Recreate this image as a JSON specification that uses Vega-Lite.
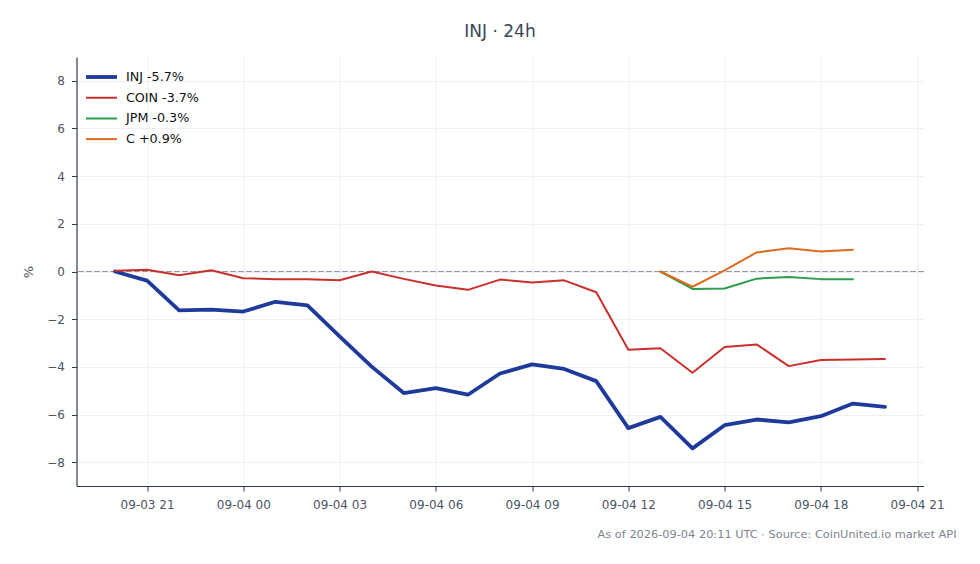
{
  "$schema": "https://vega.github.io/schema/vega-lite/v6.json",
  "autosize": "none",
  "padding": {"left": 76.5, "top": 57, "right": 56.5, "bottom": 78},
  "width": 847,
  "height": 429,
  "background": "white",
  "config": {
    "font": "DejaVu Sans",
    "view": {"stroke": null},
    "axis": {
      "domainColor": "#2f3b4a",
      "domainWidth": 1.2,
      "tickColor": "#2f3b4a",
      "tickSize": 5,
      "labelColor": "#4b5563",
      "labelFontSize": 12,
      "gridColor": "#e9ebef",
      "gridWidth": 0.8
    }
  },
  "title": {
    "text": "INJ · 24h",
    "fontSize": 17,
    "fontWeight": "normal",
    "color": "#3a4656",
    "anchor": "middle",
    "offset": 16
  },
  "data": {
    "values": [
      {"series": "INJ -5.7%", "t": "2026-09-03T20:00:00Z", "v": 0.0},
      {"series": "INJ -5.7%", "t": "2026-09-03T21:00:00Z", "v": -0.38},
      {"series": "INJ -5.7%", "t": "2026-09-03T22:00:00Z", "v": -1.63},
      {"series": "INJ -5.7%", "t": "2026-09-03T23:00:00Z", "v": -1.6},
      {"series": "INJ -5.7%", "t": "2026-09-04T00:00:00Z", "v": -1.68},
      {"series": "INJ -5.7%", "t": "2026-09-04T01:00:00Z", "v": -1.27},
      {"series": "INJ -5.7%", "t": "2026-09-04T02:00:00Z", "v": -1.42},
      {"series": "INJ -5.7%", "t": "2026-09-04T03:00:00Z", "v": -2.72},
      {"series": "INJ -5.7%", "t": "2026-09-04T04:00:00Z", "v": -3.99},
      {"series": "INJ -5.7%", "t": "2026-09-04T05:00:00Z", "v": -5.1},
      {"series": "INJ -5.7%", "t": "2026-09-04T06:00:00Z", "v": -4.89},
      {"series": "INJ -5.7%", "t": "2026-09-04T07:00:00Z", "v": -5.17},
      {"series": "INJ -5.7%", "t": "2026-09-04T08:00:00Z", "v": -4.28},
      {"series": "INJ -5.7%", "t": "2026-09-04T09:00:00Z", "v": -3.9},
      {"series": "INJ -5.7%", "t": "2026-09-04T10:00:00Z", "v": -4.09},
      {"series": "INJ -5.7%", "t": "2026-09-04T11:00:00Z", "v": -4.6},
      {"series": "INJ -5.7%", "t": "2026-09-04T12:00:00Z", "v": -6.57},
      {"series": "INJ -5.7%", "t": "2026-09-04T13:00:00Z", "v": -6.1},
      {"series": "INJ -5.7%", "t": "2026-09-04T14:00:00Z", "v": -7.42},
      {"series": "INJ -5.7%", "t": "2026-09-04T15:00:00Z", "v": -6.45},
      {"series": "INJ -5.7%", "t": "2026-09-04T16:00:00Z", "v": -6.21},
      {"series": "INJ -5.7%", "t": "2026-09-04T17:00:00Z", "v": -6.33},
      {"series": "INJ -5.7%", "t": "2026-09-04T18:00:00Z", "v": -6.07},
      {"series": "INJ -5.7%", "t": "2026-09-04T19:00:00Z", "v": -5.54},
      {"series": "INJ -5.7%", "t": "2026-09-04T20:00:00Z", "v": -5.68},
      {"series": "COIN -3.7%", "t": "2026-09-03T20:00:00Z", "v": 0.03},
      {"series": "COIN -3.7%", "t": "2026-09-03T21:00:00Z", "v": 0.07},
      {"series": "COIN -3.7%", "t": "2026-09-03T22:00:00Z", "v": -0.16},
      {"series": "COIN -3.7%", "t": "2026-09-03T23:00:00Z", "v": 0.05},
      {"series": "COIN -3.7%", "t": "2026-09-04T00:00:00Z", "v": -0.28},
      {"series": "COIN -3.7%", "t": "2026-09-04T01:00:00Z", "v": -0.32},
      {"series": "COIN -3.7%", "t": "2026-09-04T02:00:00Z", "v": -0.32},
      {"series": "COIN -3.7%", "t": "2026-09-04T03:00:00Z", "v": -0.37},
      {"series": "COIN -3.7%", "t": "2026-09-04T04:00:00Z", "v": 0.0},
      {"series": "COIN -3.7%", "t": "2026-09-04T05:00:00Z", "v": -0.31},
      {"series": "COIN -3.7%", "t": "2026-09-04T06:00:00Z", "v": -0.59},
      {"series": "COIN -3.7%", "t": "2026-09-04T07:00:00Z", "v": -0.77},
      {"series": "COIN -3.7%", "t": "2026-09-04T08:00:00Z", "v": -0.34},
      {"series": "COIN -3.7%", "t": "2026-09-04T09:00:00Z", "v": -0.46},
      {"series": "COIN -3.7%", "t": "2026-09-04T10:00:00Z", "v": -0.37},
      {"series": "COIN -3.7%", "t": "2026-09-04T11:00:00Z", "v": -0.87},
      {"series": "COIN -3.7%", "t": "2026-09-04T12:00:00Z", "v": -3.28},
      {"series": "COIN -3.7%", "t": "2026-09-04T13:00:00Z", "v": -3.22},
      {"series": "COIN -3.7%", "t": "2026-09-04T14:00:00Z", "v": -4.25},
      {"series": "COIN -3.7%", "t": "2026-09-04T15:00:00Z", "v": -3.17},
      {"series": "COIN -3.7%", "t": "2026-09-04T16:00:00Z", "v": -3.06},
      {"series": "COIN -3.7%", "t": "2026-09-04T17:00:00Z", "v": -3.97},
      {"series": "COIN -3.7%", "t": "2026-09-04T18:00:00Z", "v": -3.71},
      {"series": "COIN -3.7%", "t": "2026-09-04T19:00:00Z", "v": -3.69},
      {"series": "COIN -3.7%", "t": "2026-09-04T20:00:00Z", "v": -3.67},
      {"series": "JPM -0.3%", "t": "2026-09-04T13:00:00Z", "v": 0.0},
      {"series": "JPM -0.3%", "t": "2026-09-04T14:00:00Z", "v": -0.73},
      {"series": "JPM -0.3%", "t": "2026-09-04T15:00:00Z", "v": -0.71},
      {"series": "JPM -0.3%", "t": "2026-09-04T16:00:00Z", "v": -0.3},
      {"series": "JPM -0.3%", "t": "2026-09-04T17:00:00Z", "v": -0.23},
      {"series": "JPM -0.3%", "t": "2026-09-04T18:00:00Z", "v": -0.32},
      {"series": "JPM -0.3%", "t": "2026-09-04T19:00:00Z", "v": -0.32},
      {"series": "C +0.9%", "t": "2026-09-04T13:00:00Z", "v": 0.0},
      {"series": "C +0.9%", "t": "2026-09-04T14:00:00Z", "v": -0.64},
      {"series": "C +0.9%", "t": "2026-09-04T15:00:00Z", "v": 0.05},
      {"series": "C +0.9%", "t": "2026-09-04T16:00:00Z", "v": 0.8},
      {"series": "C +0.9%", "t": "2026-09-04T17:00:00Z", "v": 0.98},
      {"series": "C +0.9%", "t": "2026-09-04T18:00:00Z", "v": 0.84},
      {"series": "C +0.9%", "t": "2026-09-04T19:00:00Z", "v": 0.91}
    ]
  },
  "layer": [
    {
      "mark": {"type": "rule", "strokeDash": [5, 3], "color": "#8e99a8", "strokeWidth": 1},
      "encoding": {"y": {"datum": 0, "type": "quantitative", "axis": {"grid": true}}}
    },
    {
      "mark": {"type": "line", "strokeJoin": "round", "strokeCap": "round"},
      "encoding": {
        "x": {
          "field": "t",
          "type": "temporal",
          "scale": {
            "type": "utc",
            "domain": [
              {"year": 2026, "month": 9, "date": 3, "hours": 18, "minutes": 48, "utc": true},
              {"year": 2026, "month": 9, "date": 4, "hours": 21, "minutes": 12, "utc": true}
            ]
          },
          "axis": {
            "title": "As of 2026-09-04 20:11 UTC · Source: CoinUnited.io market API",
            "titleFontSize": 11.35,
            "titleFontWeight": "normal",
            "titleColor": "#7b8591",
            "titleAnchor": "end",
            "titleAlign": "right",
            "titleBaseline": "middle",
            "titleX": 879.5,
            "titleY": 48,
            "values": [
              {"year": 2026, "month": 9, "date": 3, "hours": 21, "utc": true},
              {"year": 2026, "month": 9, "date": 4, "hours": 0, "utc": true},
              {"year": 2026, "month": 9, "date": 4, "hours": 3, "utc": true},
              {"year": 2026, "month": 9, "date": 4, "hours": 6, "utc": true},
              {"year": 2026, "month": 9, "date": 4, "hours": 9, "utc": true},
              {"year": 2026, "month": 9, "date": 4, "hours": 12, "utc": true},
              {"year": 2026, "month": 9, "date": 4, "hours": 15, "utc": true},
              {"year": 2026, "month": 9, "date": 4, "hours": 18, "utc": true},
              {"year": 2026, "month": 9, "date": 4, "hours": 21, "utc": true}
            ],
            "labelExpr": "utcFormat(datum.value, '%m-%d %H')",
            "labelPadding": 8,
            "labelFlush": false,
            "labelOverlap": false
          }
        },
        "y": {
          "field": "v",
          "type": "quantitative",
          "scale": {"domain": [-9, 9], "nice": false, "zero": false},
          "axis": {
            "title": "%",
            "titleFontSize": 13,
            "titleFontWeight": "normal",
            "titleColor": "#4b5563",
            "titlePadding": 11,
            "grid": true,
            "values": [-8, -6, -4, -2, 0, 2, 4, 6, 8],
            "labelPadding": 7
          }
        },
        "color": {
          "field": "series",
          "type": "nominal",
          "scale": {
            "domain": ["INJ -5.7%", "COIN -3.7%", "JPM -0.3%", "C +0.9%"],
            "range": ["#1e3a9a", "#c9302c", "#2a9d4a", "#dd6b20"]
          },
          "legend": {
            "title": null,
            "orient": "none",
            "legendX": 7.5,
            "legendY": 12,
            "padding": 0,
            "symbolType": "stroke",
            "symbolSize": 961,
            "labelFontSize": 12.7,
            "labelColor": "#111111",
            "labelOffset": 7,
            "clipHeight": 16,
            "rowPadding": 4.7
          }
        },
        "strokeWidth": {
          "field": "series",
          "type": "nominal",
          "scale": {
            "type": "ordinal",
            "domain": ["INJ -5.7%", "COIN -3.7%", "JPM -0.3%", "C +0.9%"],
            "range": [3.8, 2, 2, 2]
          },
          "legend": null
        }
      }
    }
  ]
}
